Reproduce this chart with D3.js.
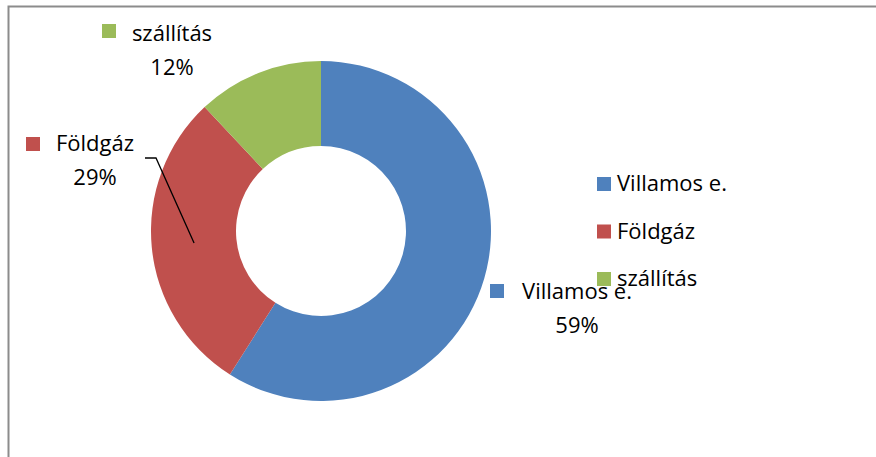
<!DOCTYPE html>
<html>
<head>
<meta charset="utf-8">
<script src="https://cdn.jsdelivr.net/npm/d3@7"></script>
<style>
  body { margin: 0; background: #fff; }
  text { font-family: "Open Sans", sans-serif; fill: #000; }
</style>
</head>
<body>
<svg id="chart" width="876" height="457"></svg>
<script>
var categories = ['Villamos e.', 'Földgáz', 'szállítás'];
var shares = [59, 29, 12];
var colors = ['#4F81BD', '#C0504D', '#9BBB59'];

var svg = d3.select("#chart");

// chart frame (runs off the right and bottom edge)
svg.append("rect")
    .attr("x", 8.5).attr("y", 6.5)
    .attr("width", 900).attr("height", 500)
    .attr("fill", "#fff")
    .attr("stroke", "#8c8c8c")
    .attr("stroke-width", 2);

var cx = 321, cy = 231, outerR = 170, innerR = 85;
var fontSize = 22;

var data = categories.map(function (c, i) {
    return { name: c, value: shares[i], color: colors[i] };
});

var pie = d3.pie().sort(null).value(function (d) { return d.value; });
var arc = d3.arc().innerRadius(innerR).outerRadius(outerR);
var arcs = pie(data);

var g = svg.append("g").attr("transform", "translate(" + cx + "," + cy + ")");

g.selectAll("path")
    .data(arcs)
    .enter().append("path")
    .attr("d", arc)
    .attr("fill", function (d) { return d.data.color; });

// data labels: key square + name, percentage centred below
var labelPos = {
    'Villamos e.': { key: [490, 284], cx: 577, y: 299 },
    'Földgáz': { key: [26, 137], cx: 95, y: 151 },
    'szállítás': { key: [102, 24], cx: 172, y: 41 }
};
var fmt = d3.format(".0%");
var total = d3.sum(shares);

arcs.forEach(function (a) {
    var p = labelPos[a.data.name];
    svg.append("rect")
        .attr("x", p.key[0]).attr("y", p.key[1])
        .attr("width", 14).attr("height", 14)
        .attr("fill", a.data.color);
    svg.append("text")
        .attr("x", p.cx).attr("y", p.y)
        .attr("text-anchor", "middle")
        .attr("font-size", fontSize)
        .text(a.data.name);
    svg.append("text")
        .attr("x", p.cx).attr("y", p.y + 34)
        .attr("text-anchor", "middle")
        .attr("font-size", fontSize)
        .text(fmt(a.data.value / total));
});

// leader line for Földgáz, ends at the slice centroid
var c = arc.centroid(arcs[1]);
svg.append("polyline")
    .attr("points", [[145, 158], [156, 158], [cx + c[0], cy + c[1]]].map(function (p) { return p.join(","); }).join(" "))
    .attr("fill", "none")
    .attr("stroke", "#000")
    .attr("stroke-width", 1.3);

// legend on the right
var legend = svg.append("g")
    .selectAll("g")
    .data(data)
    .enter().append("g")
    .attr("transform", function (d, i) { return "translate(597," + (177 + i * 47.5) + ")"; });

legend.append("rect")
    .attr("width", 14).attr("height", 14)
    .attr("fill", function (d) { return d.color; });

legend.append("text")
    .attr("x", 20).attr("y", 14)
    .attr("font-size", fontSize)
    .text(function (d) { return d.name; });
</script>
</body>
</html>
